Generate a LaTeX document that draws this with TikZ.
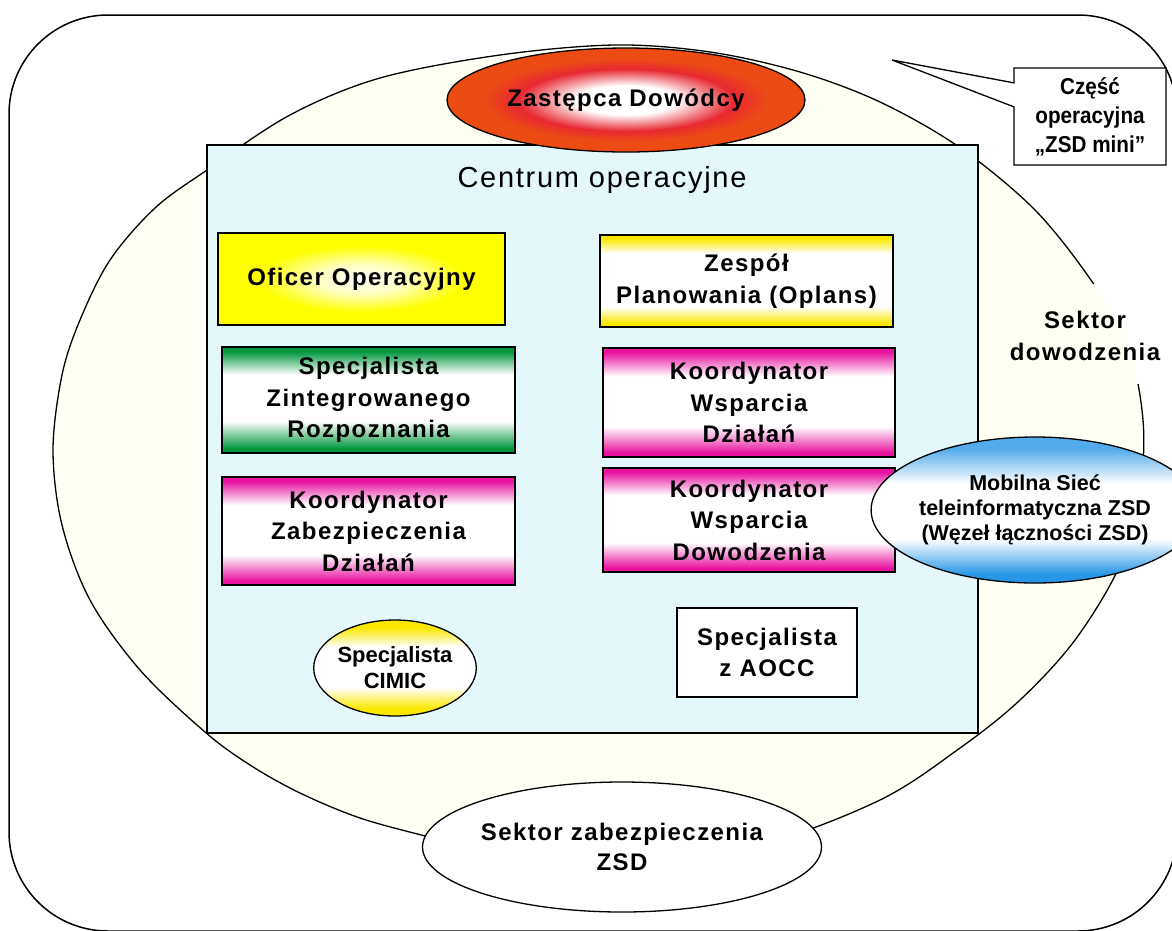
\documentclass[tikz,border=0pt]{standalone}
\usepackage{fontspec}
\setmainfont{Liberation Sans}
\newfontfamily\boxfont[LetterSpace=6]{Liberation Sans}
\newfontfamily\plainfont{Liberation Sans}
\newfontfamily\narrowfont[FakeStretch=0.9]{Liberation Sans}
\usetikzlibrary{shapes.geometric,shapes.callouts}

\definecolor{bandyellow}{RGB}{250,232,0}
\definecolor{bandgreen}{RGB}{0,150,60}
\definecolor{bandmag}{RGB}{232,20,160}
\definecolor{bandblue}{RGB}{40,150,230}
\definecolor{centrumcyan}{RGB}{228,247,250}
\definecolor{sectorcream}{RGB}{255,255,244}
\definecolor{glowred}{RGB}{232,40,50}
\definecolor{gloworange}{RGB}{236,76,20}

% The path's bounding box covers 25bp..75bp of a 100bp shading
% (radial: the border sits at 25bp), so the stops below are placed in that range.
\pgfdeclareverticalshading{greenband}{100bp}{color(0bp)=(bandgreen); color(27bp)=(bandgreen); color(40bp)=(white); color(62bp)=(white); color(73bp)=(bandgreen); color(100bp)=(bandgreen)}
\pgfdeclareverticalshading{magband}{100bp}{color(0bp)=(bandmag); color(27bp)=(bandmag); color(39bp)=(white); color(62bp)=(white); color(73bp)=(bandmag); color(100bp)=(bandmag)}
\pgfdeclareverticalshading{yellowband}{100bp}{color(0bp)=(bandyellow); color(27bp)=(bandyellow); color(36bp)=(white); color(65bp)=(white); color(73bp)=(bandyellow); color(100bp)=(bandyellow)}
\pgfdeclareverticalshading{blueband}{100bp}{color(0bp)=(bandblue); color(28bp)=(bandblue); color(40bp)=(white); color(59bp)=(white); color(71bp)=(bandblue!80!white); color(100bp)=(bandblue!80!white)}
\pgfdeclareverticalshading{cimicband}{100bp}{color(0bp)=(bandyellow); color(29bp)=(bandyellow); color(40bp)=(white); color(61bp)=(white); color(71bp)=(bandyellow); color(100bp)=(bandyellow)}
\pgfdeclareradialshading{redglow}{\pgfpoint{0bp}{0bp}}{color(0bp)=(white); color(7bp)=(white); color(15bp)=(glowred); color(20bp)=(gloworange); color(50bp)=(gloworange)}
\pgfdeclareradialshading{yellowglow}{\pgfpoint{0bp}{0bp}}{color(0bp)=(white); color(8bp)=(white!75!yellow); color(18bp)=(yellow); color(50bp)=(yellow)}

\tikzset{
  frame/.style={draw=black, line width=1.3pt},
  boxtext/.style={font=\boxfont\bfseries\fontsize{24}{31.5}\selectfont, align=center},
  unit/.style={frame, rectangle, inner sep=0pt, boxtext},
  oval/.style={frame, ellipse, inner sep=0pt, align=center},
}

\begin{document}
\begin{tikzpicture}[x=1pt, y=-1pt]
\useasboundingbox (0,0) rectangle (1172,930);
\fill[white] (0,0) rectangle (1172,930);

% outer frame of the whole post
\draw[line width=1.5pt, rounded corners=99pt] (9,15) rectangle (1177,931);

% command sector: fill, then the outline with a gap for its label
\def\sectorpath{plot[smooth cycle, tension=0.55] coordinates {
  (615,45) (710,52) (800,72) (880,102) (959,147) (1035,210) (1093,283)
  (1128,345) (1143,420) (1140,490) (1120,565) (1075,640) (1020,700)
  (960,748) (880,800) (760,845) (622,866) (500,855) (429,837) (360,818)
  (300,793) (250,765) (205,732) (140,670) (90,600) (62,525) (53,450)
  (62,375) (80,320) (110,260) (155,208) (207,170) (290,115) (380,78) (500,55)}}
\fill[sectorcream] \sectorpath;
\node[boxtext] (dowodzenie) at (1085,336) {Sektor\\dowodzenia};
\begin{scope}[even odd rule]
  \clip (0,0) rectangle (1172,930) (1005,284) rectangle (1170,384);
  \draw[frame] \sectorpath;
\end{scope}

% operations centre
\node[frame, rectangle, fill=centrumcyan, minimum width=771, minimum height=588, inner sep=0pt] (centrum) at (592.5,439) {};
\node[font=\boxfont\fontsize{29}{35}\selectfont] (centrumtitle) at (602,180) {Centrum operacyjne};

\node[unit, shading=yellowglow, minimum width=287, minimum height=92] (oficer) at (361.5,279) {Oficer Operacyjny};
\node[unit, shading=greenband, minimum width=293, minimum height=106] (rozpoznanie) at (368.5,400) {Specjalista\\Zintegrowanego\\Rozpoznania};
\node[unit, shading=magband, minimum width=293, minimum height=108] (zabezpieczenie) at (368.5,531) {Koordynator\\Zabezpieczenia\\Działań};
\node[unit, shading=yellowband, minimum width=293, minimum height=92] (oplans) at (746.5,281) {Zespół\\Planowania (Oplans)};
\node[unit, shading=magband, minimum width=292, minimum height=109] (wsparciedz) at (749,402.5) {Koordynator\\Wsparcia\\Działań};
\node[unit, shading=magband, minimum width=292, minimum height=104] (wsparciedow) at (749,520) {Koordynator\\Wsparcia\\Dowodzenia};
\node[oval, shading=cimicband, minimum width=156, minimum height=96, font=\plainfont\bfseries\fontsize{22}{26}\selectfont] (cimic) at (395,668) {Specjalista\\CIMIC};
\node[unit, fill=white, minimum width=180, minimum height=89] (aocc) at (767,652.5) {Specjalista\\z AOCC};

% deputy commander
\node[oval, shading=redglow, minimum width=358, minimum height=104, boxtext] (zastepca) at (626,100) {Zastępca\hspace{8pt}Dowódcy};

% communications node
\node[oval, shading=blueband, minimum width=244, minimum height=146, font=\plainfont\bfseries\fontsize{21.5}{25}\selectfont] (siec) at (1035,510) {Mobilna Sieć\\teleinformatyczna ZSD\\(Węzeł łączności ZSD)};

% security sector
\node[oval, fill=white, minimum width=388, minimum height=130, font=\boxfont\bfseries\fontsize{24}{30}\selectfont] (ochrona) at (622,847) {Sektor zabezpieczenia\\ZSD};

% callout
\node[rectangle callout, frame, fill=white, minimum width=152, minimum height=97, inner sep=0pt,
      callout absolute pointer={(892,60)}, callout pointer width=24pt,
      font=\narrowfont\bfseries\fontsize{23}{29}\selectfont, align=center] (mini) at (1090,116.5) {Część\\operacyjna\\„ZSD mini”};
\end{tikzpicture}
\end{document}
